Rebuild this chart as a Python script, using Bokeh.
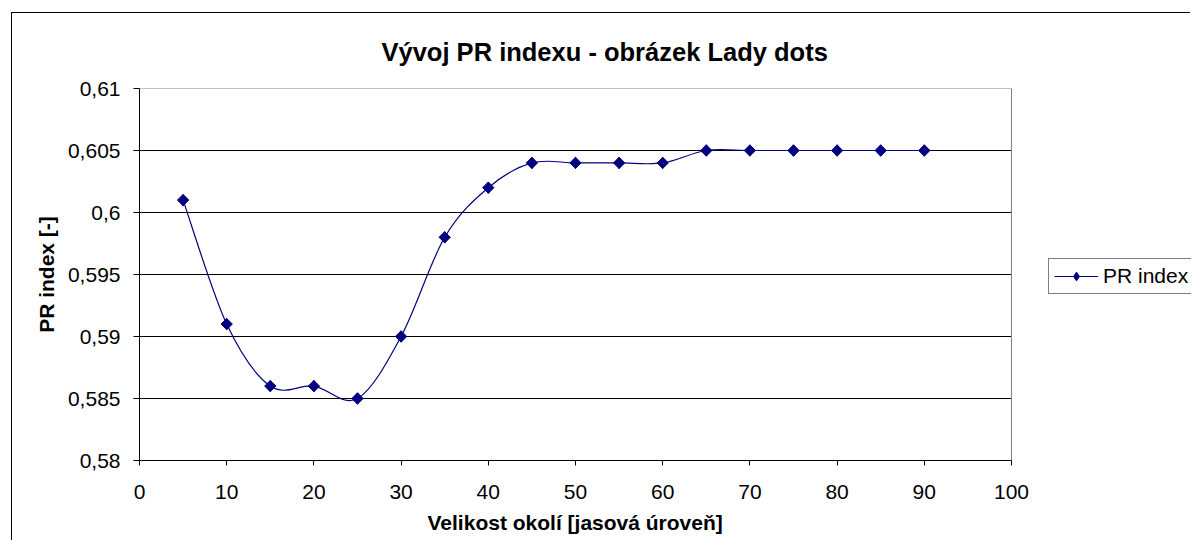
import numpy as np
from bokeh.plotting import figure
from bokeh.models import (Range1d, FixedTicker, CustomJSTickFormatter, Legend,
                          LegendItem, ColumnDataSource, Title)
from bokeh.embed import file_html
from bokeh.resources import INLINE

# ---- data ----
title_text = "Vývoj PR indexu - obrázek Lady dots"
x_label = "Velikost okolí [jasová úroveň]"
y_label = "PR index [-]"
series_name = "PR index"
x_vals = [5, 10, 15, 20, 25, 30, 35, 40, 45, 50, 55, 60, 65, 70, 75, 80, 85, 90]
y_vals = [0.601, 0.591, 0.586, 0.586, 0.585, 0.590, 0.598, 0.602, 0.604, 0.604,
          0.604, 0.604, 0.605, 0.605, 0.605, 0.605, 0.605, 0.605]
x_ticks = [0, 10, 20, 30, 40, 50, 60, 70, 80, 90, 100]
y_ticks = [0.58, 0.585, 0.59, 0.595, 0.6, 0.605, 0.61]
x_min, x_max = 0, 100
y_min, y_max = 0.58, 0.61

NAVY = "#000080"
FONT = "Liberation Sans"

W, H = 1179, 528
LEFT, TOP, BOTTOM = 127, 75, 81
AXIS_PX = 872  # pixel length of the 0..100 axis
frame_w = W - LEFT
x_end = x_min + (x_max - x_min) * frame_w / AXIS_PX  # room for the legend

p = figure(width=W, height=H, output_backend="svg", toolbar_location=None,
           x_range=Range1d(x_min, x_end), y_range=Range1d(y_min, y_max),
           min_border_left=LEFT, min_border_right=0,
           min_border_top=TOP, min_border_bottom=BOTTOM,
           background_fill_color="white", border_fill_color="white")
p.styles = {"margin-left": "11px", "margin-top": "12px",
            "border-left": "1px solid black", "border-top": "1px solid black"}

p.title.text = title_text
p.title.text_font = FONT
p.title.text_font_size = "25.5px"
p.title.text_font_style = "bold"
p.title.align = "left"
p.title.offset = 242
p.title.standoff = 45
p.title.text_line_height = 0.7
p.title.text_color = "black"

p.outline_line_color = None
p.xgrid.visible = False
p.ygrid.visible = False

# horizontal gridlines (black) and plot-area border (grey), limited to 0..100
inner = y_ticks[1:-1]
p.segment(x0=[x_min] * len(inner), y0=inner, x1=[x_max] * len(inner), y1=inner,
          line_color="black", line_width=1)
p.segment(x0=[x_min, x_max], y0=[y_max, y_min], x1=[x_max, x_max], y1=[y_max, y_max],
          line_color="#808080", line_width=1)

fmt = CustomJSTickFormatter(code="return (Math.round(tick*1000)/1000).toString().replace('.', ',');")

for ax, ticks, tout in ((p.xaxis[0], x_ticks, 5), (p.yaxis[0], y_ticks, 6)):
    ax.ticker = FixedTicker(ticks=ticks)
    ax.minor_tick_line_color = None
    ax.major_tick_in = 0
    ax.major_tick_out = tout
    ax.major_tick_line_color = "black"
    ax.axis_line_color = "black"
    ax.major_label_text_font = FONT
    ax.major_label_text_font_size = "21px"
    ax.major_label_text_color = "black"
    ax.axis_label_text_font = FONT
    ax.axis_label_text_font_size = "21px"
    ax.axis_label_text_font_style = "bold"
    ax.axis_label_text_color = "black"

p.xaxis[0].bounds = (x_min, x_max)
p.yaxis[0].formatter = fmt
p.yaxis[0].axis_label = y_label
p.xaxis[0].major_label_standoff = 19
p.yaxis[0].major_label_standoff = 13
p.yaxis[0].axis_label_standoff = 7

# x-axis title, centred under the 0..100 axis
p.add_layout(Title(text=x_label, text_font=FONT, text_font_size="21px",
                   text_font_style="bold", text_color="black",
                   align="left", offset=288, standoff=15), "below")

# smoothed line (Excel-like Bezier smoothing through the data points)
xa = np.array(x_vals, dtype=float)
ya = np.array(y_vals, dtype=float)
xp = np.concatenate([[xa[0]], xa, [xa[-1]]])
yp = np.concatenate([[ya[0]], ya, [ya[-1]]])
n = len(xa)
i = np.arange(1, n)
src = ColumnDataSource(dict(
    x0=xp[i], y0=yp[i], x1=xp[i + 1], y1=yp[i + 1],
    cx0=xp[i] + (xp[i + 1] - xp[i - 1]) / 6.0,
    cy0=yp[i] + (yp[i + 1] - yp[i - 1]) / 6.0,
    cx1=xp[i + 1] - (xp[i + 2] - xp[i]) / 6.0,
    cy1=yp[i + 1] - (yp[i + 2] - yp[i]) / 6.0,
))
bz = p.bezier(x0="x0", y0="y0", x1="x1", y1="y1", cx0="cx0", cy0="cy0",
              cx1="cx1", cy1="cy1", source=src, line_color=NAVY, line_width=1.2)

dm = p.scatter(x_vals, y_vals, marker="diamond", size=11.3,
               fill_color=NAVY, line_color=NAVY)
sc = p.scatter(x_vals, y_vals, marker="square", angle=np.pi / 4, size=8,
               fill_color=NAVY, line_color=NAVY)

legend = Legend(items=[LegendItem(label=series_name, renderers=[bz, dm])],
                location=(909, 166), orientation="vertical",
                border_line_color="black", border_line_width=1,
                background_fill_color="white", background_fill_alpha=1,
                label_text_font=FONT, label_text_font_size="21px",
                label_text_color="black",
                glyph_width=44, glyph_height=22, label_height=22,
                label_standoff=5, padding=5, spacing=0, margin=0)
p.add_layout(legend, "center")

open("out.html", "w").write(file_html(p, INLINE))
